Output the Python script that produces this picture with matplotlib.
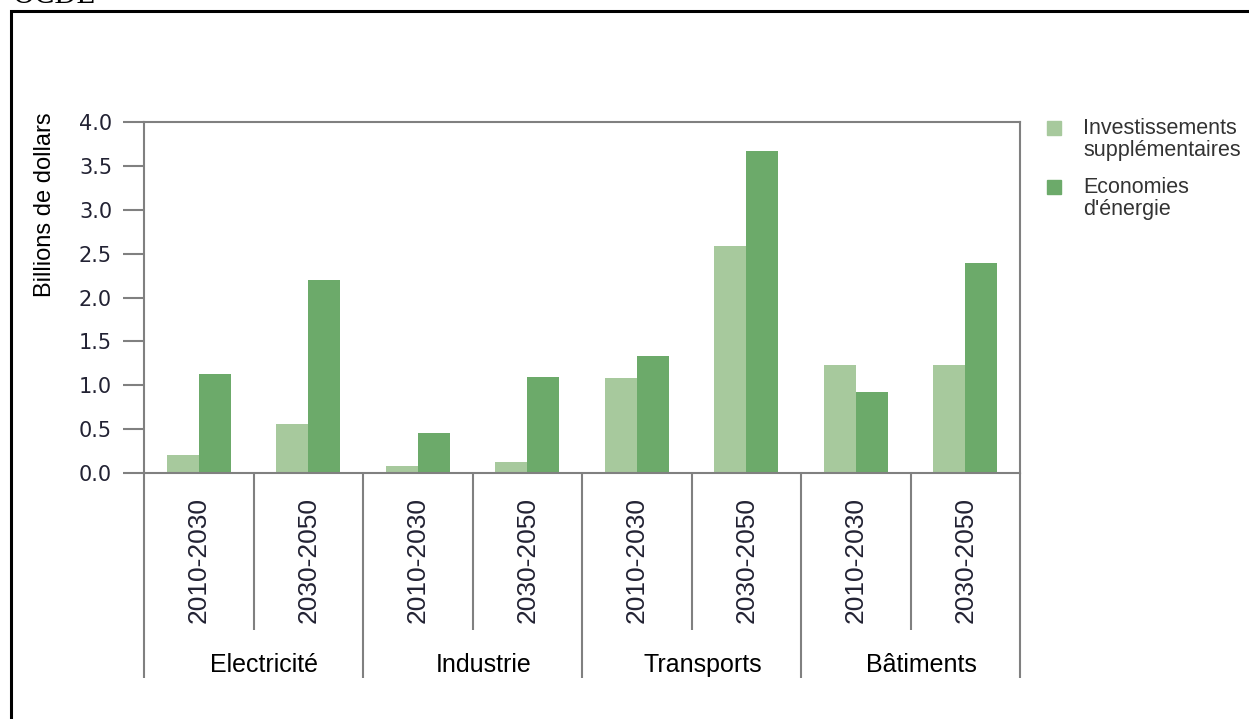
import numpy as np
import matplotlib
matplotlib.use('Agg')
import matplotlib.pyplot as plt
from matplotlib.patches import Rectangle

# data (billions of dollars)
sectors = ['Electricité', 'Industrie', 'Transports', 'Bâtiments']
periods = ['2010-2030', '2030-2050']
investissements = [0.20, 0.56, 0.08, 0.12, 1.08, 2.59, 1.23, 1.23]
economies = [1.13, 2.20, 0.46, 1.09, 1.33, 3.67, 0.92, 2.39]
yticks = [0.0, 0.5, 1.0, 1.5, 2.0, 2.5, 3.0, 3.5, 4.0]
legend_labels = ['Investissements\nsupplémentaires', 'Economies\nd\'énergie']

LIGHT = '#a7c99d'
DARK = '#6caa6a'
GREY = '#808080'
SANS = 'Liberation Sans'

fig = plt.figure(figsize=(12.49, 7.19), dpi=100)
ax = fig.add_axes([144 / 1249, 1 - 473 / 719, 876 / 1249, 351 / 719])

n = len(investissements)
x = np.arange(n)
w = 0.29
ax.bar(x - w / 2, investissements, w, color=LIGHT)
ax.bar(x + w / 2, economies, w, color=DARK)

ax.set_xlim(-0.5, n - 0.5)
ax.set_ylim(0, 4.0)
ax.set_yticks(yticks)
ax.set_yticklabels(['%.1f' % v for v in yticks], fontsize=15,
                   color='#222233', family='DejaVu Sans')
ax.tick_params(axis='y', length=15, width=1.5, color=GREY, pad=8)
ax.set_xticks([])
for s in ax.spines.values():
    s.set_color(GREY)
    s.set_linewidth(1.5)

# separators under the axis
xtr = ax.get_xaxis_transform()
ax.vlines(np.arange(-0.5, n, 2), 0, -0.584, transform=xtr, colors=GREY,
          lw=1.5, clip_on=False)
ax.vlines(np.arange(0.5, n, 2), 0, -0.447, transform=xtr, colors=GREY,
          lw=1.5, clip_on=False)

for i in range(n):
    ax.text(i, -0.068, periods[i % 2], transform=xtr, rotation=90,
            ha='center', va='top', fontsize=19, family=SANS, color='#222233')
for j, name in enumerate(sectors):
    ax.text(2 * j + 0.6, -0.548, name, transform=xtr, ha='center',
            va='center', fontsize=18, family=SANS, color='black')

fig.text(45 / 1249, 1 - 112 / 719, 'Billions de dollars', rotation=90,
         ha='center', va='top', fontsize=17, family=SANS, color='black')

# legend: square beside the first line of each label
for k, (lab, col) in enumerate(zip(legend_labels, [LIGHT, DARK])):
    top = 121 + k * 59
    fig.patches.append(Rectangle((1047 / 1249, 1 - (top + 14) / 719),
                                 14 / 1249, 14 / 719,
                                 transform=fig.transFigure, color=col))
    fig.text(1083 / 1249, 1 - (top - 3) / 719, lab, ha='left', va='top',
             fontsize=15.5, family=SANS, color='#333333', linespacing=1.05)

# outer frame and clipped source label
fig.patches.append(Rectangle((11 / 1249, -0.05), 1.2, 1 - 11 / 719 + 0.05,
                             transform=fig.transFigure, fill=False,
                             edgecolor='black', lw=2.2))
fig.text(13 / 1249, 1 - 3 / 719, 'OCDE', ha='left', va='baseline',
         fontsize=22, family='Liberation Serif', color='black')

fig.savefig('out.png', dpi=100)
